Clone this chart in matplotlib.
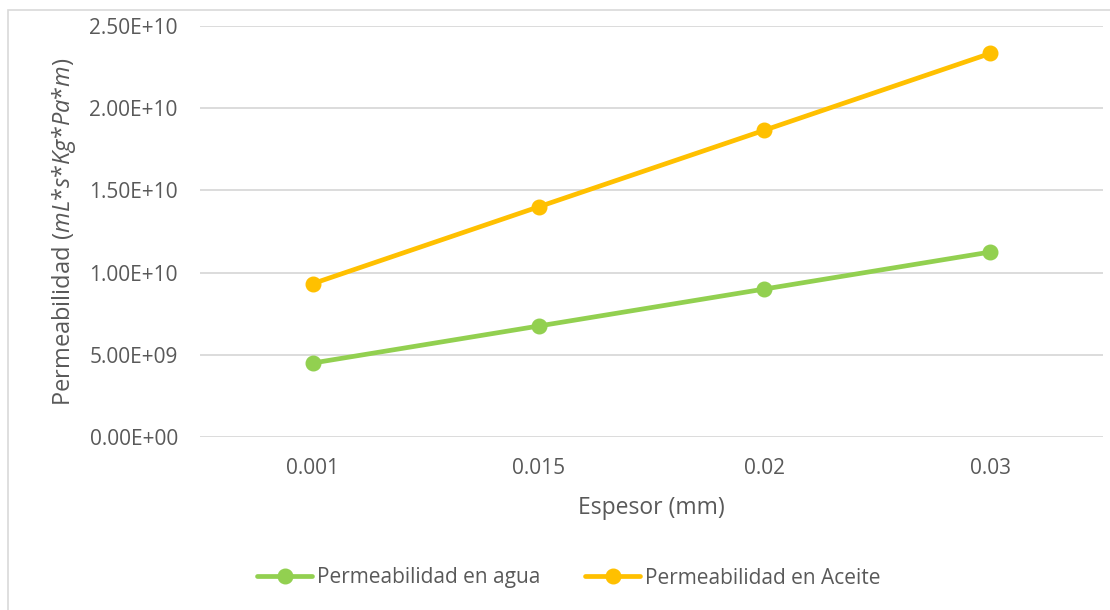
# permeabilidad.py
#   permeabilidad vs espesor, agua y aceite

import matplotlib
matplotlib.use('Agg')
import matplotlib.pyplot as plt
from matplotlib.patches import Rectangle
from matplotlib.ticker import FuncFormatter

# data
espesor = ['0.001', '0.015', '0.02', '0.03']
perm_agua = [4.50e9, 6.75e9, 9.00e9, 1.125e10]
perm_aceite = [9.33e9, 1.40e10, 1.866e10, 2.333e10]

# style
ink = '#595959'
grid = '#d9d9d9'
verde = '#92D050'
amarillo = '#FFC000'
plt.rcParams['font.family'] = 'Open Sans'
plt.rcParams['mathtext.fontset'] = 'custom'
plt.rcParams['mathtext.rm'] = 'Open Sans'
plt.rcParams['mathtext.it'] = 'Open Sans:italic'

fig = plt.figure(figsize=(11.1, 6.1), dpi=100, facecolor='white')
ax = fig.add_axes([200 / 1110, 1 - 437 / 610, 903 / 1110, 411 / 610])

x = range(len(espesor))
ax.plot(x, perm_agua, color=verde, lw=3.4, marker='o', ms=10.5,
        solid_capstyle='round', label='Permeabilidad en agua', zorder=3)
ax.plot(x, perm_aceite, color=amarillo, lw=3.4, marker='o', ms=10.5,
        solid_capstyle='round', label='Permeabilidad en Aceite', zorder=3)

ax.set_xlim(-0.5, len(espesor) - 0.5)
ax.set_ylim(0, 2.5e10)
ax.set_yticks([0, 5e9, 1e10, 1.5e10, 2e10, 2.5e10])
ax.yaxis.set_major_formatter(FuncFormatter(lambda v, p: f'{v:.2E}'))
ax.set_xticks(list(x))
ax.set_xticklabels(espesor)
ax.grid(axis='y', color=grid, lw=1.3)
ax.set_axisbelow(True)
for s in ax.spines.values():
    s.set_visible(False)
ax.tick_params(length=0, colors=ink, labelsize=15)
ax.tick_params(axis='y', pad=16)
ax.tick_params(axis='x', pad=15)

ax.set_xlabel('Espesor (mm)', color=ink, fontsize=16.5, labelpad=12)
ax.set_ylabel(r'$\mathrm{Permeabilidad\ (}\mathit{mL{*}s{*}Kg{*}Pa{*}m)}$',
              color=ink, fontsize=17, labelpad=8)

leg = ax.legend(loc='center', bbox_to_anchor=(569 / 1110, 1 - 578 / 610),
                bbox_transform=fig.transFigure, ncol=2, frameon=False,
                fontsize=15, handlelength=2.64, handletextpad=0.24,
                columnspacing=2.16)
for t in leg.get_texts():
    t.set_color(ink)

# chart area border
fig.patches.append(Rectangle((8 / 1110, -0.1), 1.2, 1 - 10 / 610 + 0.1,
                             transform=fig.transFigure, fill=False,
                             edgecolor=grid, lw=1.2))

fig.savefig('out.png', dpi=100, facecolor='white')
